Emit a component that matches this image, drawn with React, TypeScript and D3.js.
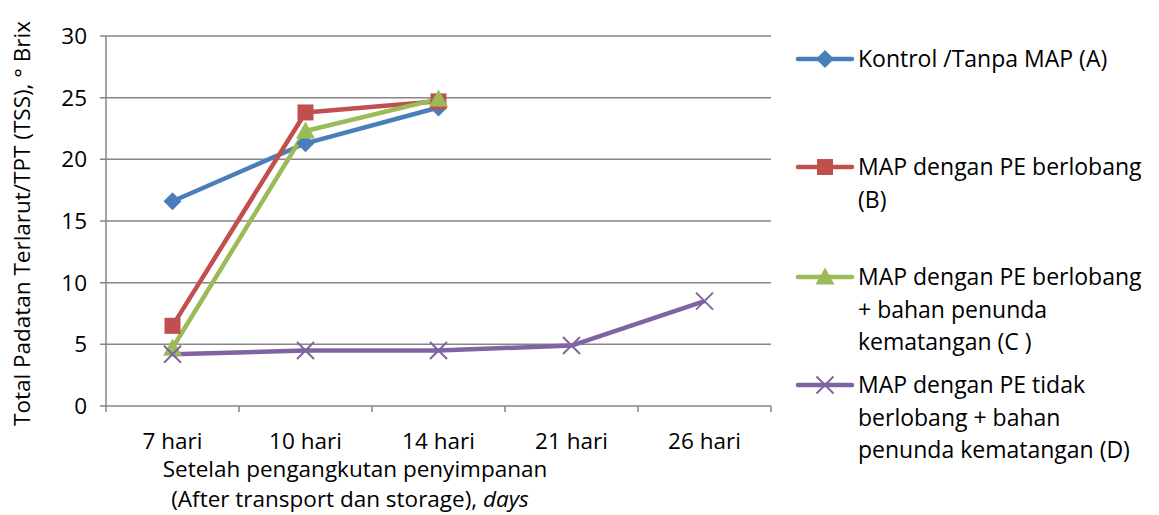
import React, { useEffect } from "react"
import * as d3 from "d3"

const categories = ["7 hari", "10 hari", "14 hari", "21 hari", "26 hari"]
const yTicks = [0, 5, 10, 15, 20, 25, 30]

const seriesA = [16.6, 21.3, 24.2]
const seriesB = [6.5, 23.8, 24.7]
const seriesC = [4.7, 22.3, 24.9]
const seriesD = [4.2, 4.5, 4.5, 4.9, 8.5]

const seriesNames = [
  ["Kontrol /Tanpa MAP (A)"],
  ["MAP dengan PE berlobang", "(B)"],
  ["MAP dengan PE berlobang", "+ bahan penunda", "kematangan (C )"],
  ["MAP dengan PE tidak", "berlobang + bahan", "penunda kematangan (D)"],
]
const colors = ["#4A7EBB", "#C0504D", "#9BBB59", "#8064A2"]
const markers = ["diamond", "square", "triangle", "cross"]

const FONT = "'Open Sans', 'Noto Sans', sans-serif"
const FS = 22.5
const W = 1159
const H = 515
const margin = { left: 106, right: 388, top: 36, bottom: 109 }

function Marker({ kind, x, y, color }: { kind: string; x: number; y: number; color: string }) {
  if (kind === "diamond") {
    const r = 9
    return <path d={`M${x},${y - r}L${x + r},${y}L${x},${y + r}L${x - r},${y}Z`} fill={color} />
  }
  if (kind === "square") {
    const r = 8
    return <rect x={x - r} y={y - r} width={r * 2} height={r * 2} fill={color} />
  }
  if (kind === "triangle") {
    const r = 9.5
    return <path d={`M${x},${y - r}L${x + r},${y + r * 0.8}L${x - r},${y + r * 0.8}Z`} fill={color} />
  }
  const r = 8.5
  return (
    <path
      d={`M${x - r},${y - r}L${x + r},${y + r}M${x - r},${y + r}L${x + r},${y - r}`}
      stroke={color}
      strokeWidth={2}
      fill="none"
    />
  )
}

export default function App() {
  useEffect(() => {
    document.body.style.margin = "0"
  }, [])

  const x = d3
    .scaleBand<string>()
    .domain(categories)
    .range([margin.left, W - margin.right])
  const y = d3
    .scaleLinear()
    .domain([0, 30])
    .range([H - margin.bottom, margin.top])

  const allSeries = [seriesA, seriesB, seriesC, seriesD]
  const line = d3
    .line<number>()
    .x((_, i) => x(categories[i])! + x.bandwidth() / 2)
    .y((d) => y(d))

  const grid = "#868686"
  const x0 = margin.left
  const x1 = W - margin.right
  const yBase = y(0)

  const legendX = 798
  const legendRows = [59, 167, 277, 385]
  const lineH = 32.5

  return (
    <svg width={W} height={H} style={{ display: "block", background: "#fff" }} fontFamily={FONT}>
      {/* gridlines */}
      {yTicks.map((t) => (
        <g key={t}>
          <line x1={x0 - 6} x2={x1} y1={y(t)} y2={y(t)} stroke={grid} strokeWidth={1.5} />
          <text x={x0 - 19} y={y(t)} dy="0.35em" textAnchor="end" fontSize={FS} fill="#000">
            {t}
          </text>
        </g>
      ))}
      <line x1={x0} x2={x0} y1={y(30)} y2={yBase + 6} stroke={grid} strokeWidth={1.5} />
      {categories.map((c) => (
        <g key={c}>
          <line
            x1={x(c)! + x.bandwidth()}
            x2={x(c)! + x.bandwidth()}
            y1={yBase}
            y2={yBase + 6}
            stroke={grid}
            strokeWidth={1.5}
          />
          <text x={x(c)! + x.bandwidth() / 2} y={449} textAnchor="middle" fontSize={FS} fill="#000">
            {c}
          </text>
        </g>
      ))}

      {/* series */}
      {allSeries.map((s, i) => (
        <path key={i} d={line(s)!} fill="none" stroke={colors[i]} strokeWidth={4.5} strokeLinejoin="round" />
      ))}
      {allSeries.map((s, i) =>
        s.map((v, j) => (
          <Marker
            key={`${i}-${j}`}
            kind={markers[i]}
            x={x(categories[j])! + x.bandwidth() / 2}
            y={y(v)}
            color={colors[i]}
          />
        ))
      )}

      {/* legend */}
      {seriesNames.map((lines, i) => (
        <g key={i}>
          <line
            x1={legendX}
            x2={legendX + 54}
            y1={legendRows[i]}
            y2={legendRows[i]}
            stroke={colors[i]}
            strokeWidth={4.5}
            strokeLinecap="round"
          />
          <Marker kind={markers[i]} x={legendX + 27} y={legendRows[i]} color={colors[i]} />
          {lines.map((l, k) => (
            <text key={k} x={858} y={legendRows[i] + k * lineH} dy="0.35em" fontSize={23} fill="#000">
              {l}
            </text>
          ))}
        </g>
      ))}

      {/* axis titles */}
      <text x={355} y={477} textAnchor="middle" fontSize={FS} fill="#000">
        Setelah pengangkutan penyimpanan
      </text>
      <text x={350} y={507} textAnchor="middle" fontSize={FS} fill="#000">
        (After transport dan storage), <tspan fontStyle="italic">days</tspan>
      </text>
      <text transform="translate(30,426) rotate(-90)" fontSize={FS} fill="#000">
        Total Padatan Terlarut/TPT (TSS), ° Brix
      </text>
    </svg>
  )
}
